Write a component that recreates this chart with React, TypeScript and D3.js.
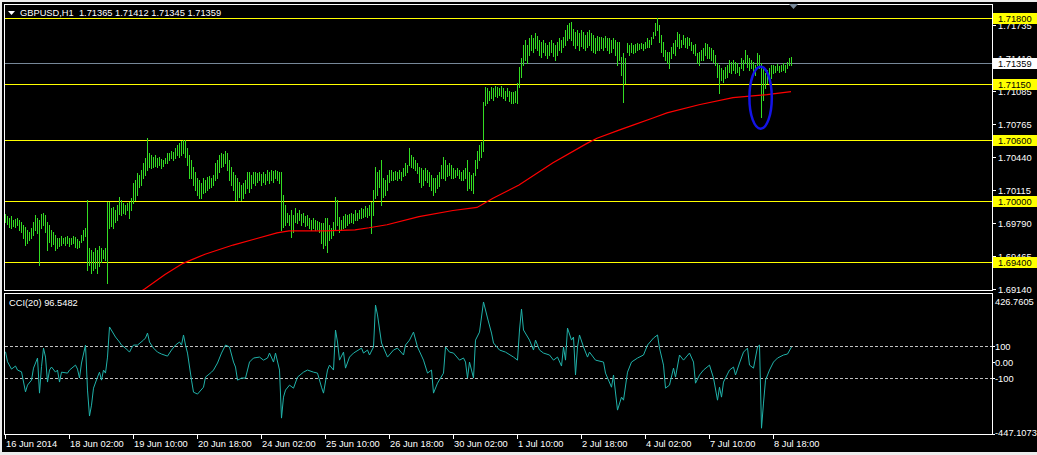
import React, { useEffect, useRef } from 'react'
import * as d3 from 'd3'

const W = 1037, H = 455
const BASE = 1.69 // bar prices below are pips above 1.6900

// GBPUSD H1 bars, one per hour, 16 Jun 18:00 .. 9 Jul 03:00
const hiPips = [
  88,86,84,86,82,83,84,82,80,77, 75,72,70,74,80,87,84,82,88,89,
  87,80,77,72,70,67,64,64,66,64, 65,66,64,64,66,65,63,61,67,72,
  74,101,54,52,50,54,52,56,54,52, 54,99,99,93,94,91,96,104,101,98,
  96,98,99,103,118,121,128,126,131,138, 143,162,148,146,144,146,143,144,142,141,
  143,148,148,150,149,152,155,157,159,160, 160,152,146,141,134,129,123,121,118,123,
  121,124,125,123,126,138,141,146,148,147, 150,148,141,134,129,126,123,119,116,118,
  121,129,129,126,129,129,128,129,127,129, 127,131,129,131,130,131,130,129,129,106,
  96,89,87,91,87,93,89,91,88,89, 86,87,84,82,84,82,81,80,79,79,
  84,84,77,74,80,104,101,85,82,86, 88,87,88,89,88,91,89,91,93,92,
  95,93,96,99,111,134,129,131,141,123, 121,126,131,131,129,130,129,131,129,133,
  138,136,152,146,144,141,138,134,133,131, 133,131,129,126,123,123,126,129,136,144,
  141,136,138,136,133,131,133,131,129,131, 133,141,129,126,128,141,150,155,158,198,
  212,211,209,212,211,213,212,211,213,211, 209,211,209,208,208,209,216,232,241,254,
  259,254,261,264,261,266,263,259,257,259, 256,254,257,259,256,254,257,261,259,262,
  269,273,275,276,270,267,269,266,269,267, 264,267,269,266,264,261,263,262,262,261,
  263,261,261,259,261,259,257,257,242,246, 241,256,254,256,254,255,256,255,256,255,
  257,261,259,262,267,275,280,273,264,257, 249,247,247,252,256,259,267,265,259,264,
  261,262,261,257,254,255,246,247,249,251, 256,255,252,251,249,244,236,234,231,229,
  232,234,239,237,239,237,236,232,241,239, 249,244,241,239,237,234,246,244,236,231,
  226,229,231,234,234,233,235,233,234,236, 234,237,241,242,
]
const loPips = [
  80,78,75,74,76,75,77,72,70,64, 57,59,62,64,67,72,69,37,74,77,
  70,52,60,56,58,52,54,56,57,59, 57,59,56,58,59,55,54,55,60,62,
  66,32,37,30,32,34,30,36,40,44, 42,20,74,76,74,80,82,88,87,89,
  88,91,84,91,98,101,106,114,116,123, 126,131,134,133,134,135,134,136,133,135,
  138,138,141,143,141,143,146,144,146,148, 144,136,123,123,116,111,106,103,103,108,
  109,111,113,114,116,121,123,129,134,135, 138,131,121,116,111,101,101,104,101,103,
  108,113,109,113,118,116,119,121,116,119, 117,121,118,121,119,123,121,118,72,75,
  77,80,77,65,70,80,79,82,77,80, 76,77,74,72,74,72,73,70,59,54,
  57,50,62,64,67,72,77,70,72,74, 75,77,79,80,79,82,82,84,84,85,
  86,85,87,69,87,103,106,114,96,104, 106,111,119,121,121,122,121,123,121,125,
  126,129,136,134,133,131,128,119,114,116, 121,119,115,111,106,109,113,115,123,123,
  121,125,126,123,123,124,126,123,121,121, 123,111,113,111,108,126,133,141,144,150,
  195,197,200,202,200,204,203,205,204,202, 200,204,199,197,197,198,197,212,222,234,
  239,236,244,249,247,251,249,244,242,247, 244,241,244,247,243,239,244,249,247,252,
  254,259,261,259,254,251,254,249,253,251, 249,252,254,249,247,246,249,249,251,249,
  252,249,246,247,251,244,234,239,224,198, 216,247,244,247,246,247,249,250,251,249,
  251,252,252,255,261,264,269,257,247,243, 239,236,231,241,246,244,253,251,252,255,
  252,251,254,249,246,244,236,234,239,239, 244,241,241,239,237,234,222,207,219,217,
  221,222,227,226,229,226,227,224,231,229, 236,232,229,231,227,224,234,231,183,200,
  211,216,219,221,226,227,229,227,228,229, 227,231,234,234,
]

// moving average (red), read at these bars
const maBars = [66,70,80,89,100,114,125,136,142,160,175,182,191,207,224,236,244,257,274,291,296,307,314,324,331,347,364,381,393]
const maPips = [9,14,28,39,48,57,63,69,71,71,72,74,77,85,91,94,103,116,138,157,162,170,175,182,187,195,202,205,208]

// CCI(20) read at these bars
const cciBars = [0,1,3,5,6,8,10,11,13,14,16,17,18,19,20,21,22,23,25,26,27,28,31,32,35,36,37,38,40,41,42,43,44,46,47,48,49,50,51,52,55,57,58,60,62,63,64,66,69,70,71,72,74,76,78,81,83,85,87,88,89,90,91,93,94,96,99,100,103,104,106,108,110,112,114,115,116,118,120,122,124,127,129,131,132,134,135,137,138,139,140,142,144,146,149,151,154,156,158,159,161,162,164,165,166,167,169,170,172,174,178,179,181,182,184,185,186,188,191,194,196,199,200,202,204,206,209,211,213,214,216,219,220,222,224,227,229,230,231,232,234,235,237,239,241,243,244,247,250,254,256,257,258,259,262,264,265,267,269,272,274,276,278,279,280,281,283,284,285,286,287,289,291,292,295,299,300,303,304,306,308,309,311,313,316,319,321,324,326,327,329,330,332,334,335,337,339,342,344,345,347,349,352,354,356,357,358,359,362,364,365,367,369,371,372,374,376,377,378,379,380,382,384,386,389,391,393]
const cciValues = [66,4,-42,-23,-48,-59,-184,-142,-111,-36,27,-192,-27,89,33,-123,-48,-29,-61,-48,-123,-61,-67,-48,-17,-42,-98,-4,108,-173,-335,-267,-161,-92,-61,-111,-48,-67,33,221,158,127,108,89,64,89,108,108,139,152,183,127,89,64,52,39,77,108,127,108,171,108,58,-111,-186,-198,-155,-92,-61,-48,-4,58,108,96,2,-29,-111,-98,-98,2,27,33,14,27,58,2,58,-48,-348,-217,-173,-142,-161,-92,-61,-48,-61,-67,-155,-192,-48,-17,-48,202,127,14,64,-36,33,58,89,58,77,46,96,358,296,121,33,77,89,46,108,139,189,96,14,-67,-48,-192,-130,-67,96,64,58,14,27,2,-98,2,-98,139,189,377,277,183,121,77,64,33,14,202,333,202,139,77,139,77,58,46,14,33,-23,96,14,214,139,158,-79,96,171,96,33,64,14,2,-67,-155,-79,-298,-217,-236,-61,2,27,46,108,152,171,89,-17,-161,-142,-36,-92,46,14,58,2,-130,-79,-48,-17,-98,-236,-155,-217,-123,-48,-29,-79,-4,64,89,-17,-36,96,108,-411,-254,-111,-48,2,27,46,52,96]

const levels = [1.718, 1.7115, 1.706, 1.7, 1.694]
const bid = 1.71359
const priceTicks = [1.71735, 1.7141, 1.71085, 1.70765, 1.7044, 1.70115, 1.6979, 1.69465, 1.6914]
const cciLevels = [100, -100]
const cciLabels = ['426.7605', '100', '0.00', '-100', '-447.1073']
const cciLabelValues = [426.7605, 100, 0, -100, -447.1073]
const timeTickBars = [0, 32, 64, 96, 128, 160, 192, 224, 256, 288, 320, 352, 384]
const timeLabels = ['16 Jun 2014', '18 Jun 02:00', '19 Jun 10:00', '20 Jun 18:00', '24 Jun 02:00', '25 Jun 10:00', '26 Jun 18:00', '30 Jun 02:00', '1 Jul 10:00', '2 Jul 18:00', '4 Jul 02:00', '7 Jul 10:00', '8 Jul 18:00']
// the circled spike
const mark = { bar: 377.8, price: 1.7102, halfBars: 5.6, halfPrice: 0.00305 }

const FONT = '"Liberation Sans", Arial, sans-serif'

export default function App() {
  const ref = useRef<SVGSVGElement | null>(null)

  useEffect(() => {
    if (!ref.current) return
    const svg = d3.select(ref.current)
    svg.selectAll('*').remove()

    const left = 5, right = 992
    const x = d3.scaleLinear().domain([0, 393]).range([5, 791])
    const y = d3.scaleLinear().domain([1.69123, 1.71941]).range([290.5, 4])
    const yc = d3.scaleLinear().domain([-447.1073, 426.7605]).range([434, 294])
    const px = (p: number) => BASE + p / 10000

    svg.append('rect').attr('width', W).attr('height', H).attr('fill', '#ececec')
    svg.append('rect').attr('x', 2).attr('y', 2).attr('width', W - 2).attr('height', 450).attr('fill', '#000')

    const defs = svg.append('defs')
    defs.append('clipPath').attr('id', 'mainClip').append('rect').attr('x', left).attr('y', 5).attr('width', right - left).attr('height', 285)
    defs.append('clipPath').attr('id', 'cciClip').append('rect').attr('x', left).attr('y', 294).attr('width', right - left).attr('height', 141)

    const main = svg.append('g').attr('clip-path', 'url(#mainClip)')

    // horizontal levels
    main.selectAll('line.lvl').data(levels).enter().append('line')
      .attr('x1', left).attr('x2', right)
      .attr('y1', d => Math.round(y(d)) + 0.5).attr('y2', d => Math.round(y(d)) + 0.5)
      .attr('stroke', '#ffff00').attr('stroke-width', 1)
    main.append('line').attr('x1', left).attr('x2', right)
      .attr('y1', Math.round(y(bid)) + 0.5).attr('y2', Math.round(y(bid)) + 0.5)
      .attr('stroke', '#778899')

    // bars
    const bars = hiPips.map((h, i) => ({ i, hi: px(h), lo: px(loPips[i]) }))
    main.selectAll('rect.bar').data(bars).enter().append('rect')
      .attr('x', d => Math.round(x(d.i)))
      .attr('y', d => Math.round(y(d.hi)))
      .attr('width', 1)
      .attr('height', d => Math.max(1, Math.round(y(d.lo)) - Math.round(y(d.hi)) + 1))
      .attr('fill', '#33dd22').attr('shape-rendering', 'crispEdges')

    // moving average
    const ma = maBars.map((b, k) => [x(b), y(px(maPips[k]))] as [number, number])
    main.append('path').attr('d', d3.line()(ma)!).attr('fill', 'none')
      .attr('stroke', '#ff0000').attr('stroke-width', 1.2)

    // marker ellipse
    main.append('ellipse')
      .attr('cx', x(mark.bar)).attr('cy', y(mark.price))
      .attr('rx', x(mark.bar + mark.halfBars) - x(mark.bar))
      .attr('ry', y(mark.price - mark.halfPrice) - y(mark.price))
      .attr('fill', 'none').attr('stroke', '#1414e6').attr('stroke-width', 2.5)

    // CCI panel
    const cci = svg.append('g').attr('clip-path', 'url(#cciClip)')
    cci.selectAll('line.cl').data(cciLevels).enter().append('line')
      .attr('x1', left).attr('x2', right)
      .attr('y1', d => Math.round(yc(d)) + 0.5).attr('y2', d => Math.round(yc(d)) + 0.5)
      .attr('stroke', '#c0c0c0').attr('stroke-dasharray', '3,2')
    const cl = cciBars.map((b, k) => [x(b) + 0.5, yc(cciValues[k])] as [number, number])
    cci.append('path').attr('d', d3.line()(cl)!).attr('fill', 'none')
      .attr('stroke', '#20b2aa').attr('stroke-width', 1)

    // frames
    svg.append('rect').attr('x', 4.5).attr('y', 4.5).attr('width', right - 4).attr('height', 286)
      .attr('fill', 'none').attr('stroke', '#fff')
    svg.append('rect').attr('x', 4.5).attr('y', 293.5).attr('width', right - 4).attr('height', 141)
      .attr('fill', 'none').attr('stroke', '#fff')

    const text = (g: any, tx: number, ty: number, s: string, fill = '#fff') =>
      g.append('text').attr('x', tx).attr('y', ty).attr('fill', fill)
        .style('font-family', FONT).style('font-size', '9.3px').text(s)

    // price axis
    priceTicks.forEach(t => {
      const ty = Math.round(y(t))
      svg.append('line').attr('x1', right).attr('x2', right + 4).attr('y1', ty + 0.5).attr('y2', ty + 0.5).attr('stroke', '#fff')
      text(svg, 998, ty + 3.5, t.toFixed(5))
    })
    const tag = (v: number, bg: string) => {
      const ty = Math.round(y(v))
      svg.append('rect').attr('x', 993).attr('y', ty - 5).attr('width', 44).attr('height', 11).attr('fill', bg)
      text(svg, 998, ty + 3.5, v.toFixed(5), '#000')
    }
    levels.forEach(l => tag(l, '#ffff00'))
    tag(bid, '#ffffff')

    // cci axis
    cciLabelValues.forEach((v, k) => {
      let ty = Math.round(yc(v))
      if (k === 0) ty += 7
      if (k === cciLabels.length - 1) ty -= 2
      if (k > 0) svg.append('line').attr('x1', right).attr('x2', right + 3).attr('y1', Math.round(yc(v)) + 0.5).attr('y2', Math.round(yc(v)) + 0.5).attr('stroke', '#fff')
      text(svg, 995, ty + 3.5, cciLabels[k])
    })

    // time axis
    timeTickBars.forEach((b, k) => {
      const tx = Math.round(x(b)) + 0.5
      svg.append('line').attr('x1', tx).attr('x2', tx).attr('y1', 435).attr('y2', 439).attr('stroke', '#fff')
      text(svg, tx + 0.5, 447, timeLabels[k])
    })

    // titles
    svg.append('path').attr('d', 'M8,11 L15,11 L11.5,15 Z').attr('fill', '#fff')
    text(svg, 20, 16, 'GBPUSD,H1  1.71365 1.71412 1.71345 1.71359').style('white-space', 'pre')
    text(svg, 9, 306, 'CCI(20) 96.5482')
    svg.append('path').attr('d', 'M789,4 L798,4 L793.5,9 Z').attr('fill', '#778899')
  }, [])

  return <svg ref={ref} width={W} height={H} style={{ position: 'absolute', left: 0, top: 0, display: 'block' }} />
}
